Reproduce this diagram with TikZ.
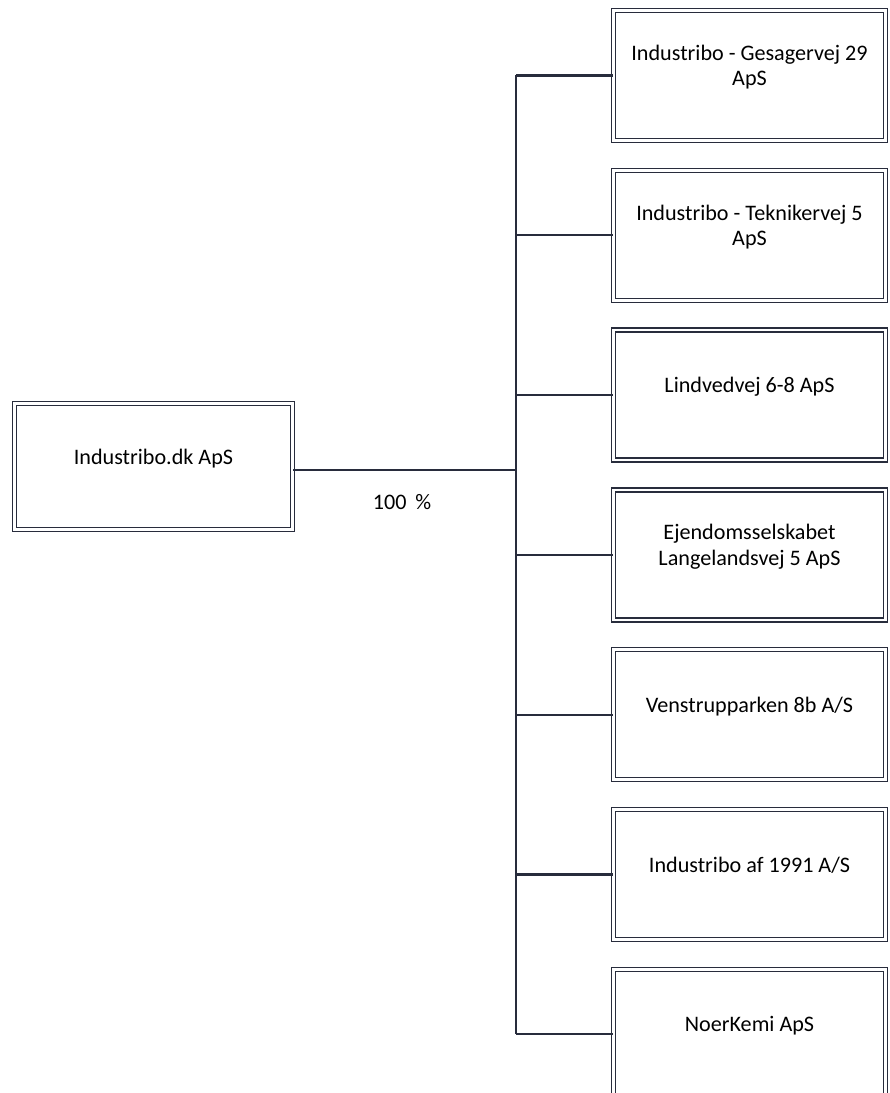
\documentclass[tikz,border=0pt]{standalone}
\usepackage{fontspec}
\setmainfont{Carlito}
\usepackage{tikz}
\usetikzlibrary{positioning}
\definecolor{boxline}{RGB}{40,44,60}
\tikzset{
  company/.style={draw=boxline, double, double distance=1.5pt, line width=0.8pt,
    minimum width=5.44cm, minimum height=2.6cm, align=center, text depth=0.4cm,
    font=\fontsize{12.6}{14.4}\selectfont},
  conn/.style={draw=boxline, line width=1.3pt}
}

\begin{document}
\begin{tikzpicture}[]
 \useasboundingbox (0,0) rectangle (17.78,-21.86);

 % Parent
 \node[company, minimum width=5.56cm, minimum height=2.52cm] (parent) at (3.07,-9.33) {Industribo.dk ApS};

 % Subsidiaries
 \node[company] (sub1) at (14.99,-1.51) {Industribo - Gesagervej 29\\ApS};
 \node[company, below=0.568cm of sub1] (sub2) {Industribo - Teknikervej 5\\ApS};
 \node[company, below=0.568cm of sub2] (sub3) {Lindvedvej 6-8 ApS};
 \node[company, below=0.568cm of sub3] (sub4) {Ejendomsselskabet\\Langelandsvej 5 ApS};
 \node[company, below=0.568cm of sub4] (sub5) {Venstrupparken 8b A/S};
 \node[company, below=0.568cm of sub5] (sub6) {Industribo af 1991 A/S};
 \node[company, below=0.568cm of sub6] (sub7) {NoerKemi ApS};

 % Lines
 \coordinate (trunk) at (10.32,-9.4);
 \draw[conn] (parent.east |- trunk) -- (trunk);
 \draw[conn] (trunk |- sub1.west) -- (trunk |- sub7.west);
 \foreach \i in {1,...,7}{
    \draw[conn] (trunk |- sub\i.west) -- (sub\i.west);
 }

 \node[font=\fontsize{12.6}{14.4}\selectfont] (pct) at (8.04,-10.04) {100 \,\%};

\end{tikzpicture}
\end{document}
